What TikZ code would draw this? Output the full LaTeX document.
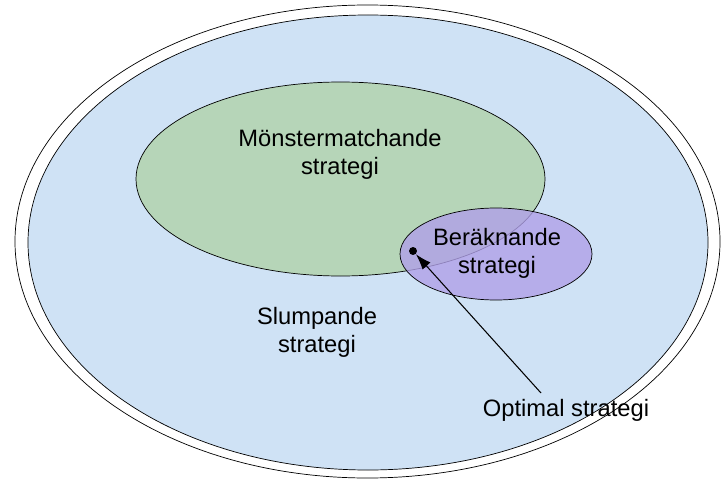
\documentclass[tikz,border=0pt]{standalone}
\usepackage{fontspec}
\setmainfont{Liberation Sans}
\usetikzlibrary{positioning,shapes.geometric,arrows.meta}

\definecolor{slumpblue}{RGB}{207,226,245}
\definecolor{monstergreen}{RGB}{182,213,184}
\definecolor{beraknviolet}{RGB}{176,160,232}

\begin{document}
\begin{tikzpicture}[x=0.02cm, y=-0.02cm,
	setlabel/.style={align=center, font=\fontsize{13.5}{16}\selectfont},
]

\useasboundingbox (0,0) rectangle (723,483);

% Random strategies
\node [draw, ellipse, fill=white,
	minimum width=705*0.02cm,
	minimum height=473*0.02cm
] (outer) at (367.5, 241.5) {};
\node [draw, ellipse, fill=slumpblue,
	minimum width=680*0.02cm,
	minimum height=455*0.02cm
] (slumpande) at (368, 242.5) {};

% Pattern matching
\node [draw, ellipse, fill=monstergreen,
	minimum width=409*0.02cm,
	minimum height=194*0.02cm
] (monster) at (340.5, 179) {};

% Computing
\node [draw, ellipse, fill=beraknviolet, fill opacity=0.8,
	minimum width=192*0.02cm,
	minimum height=92*0.02cm
] (berakn) at (496, 254) {};

% Labels
\node [setlabel] (monster_label) at (340, 154) {Mönstermatchande\\strategi};
\node [setlabel] (berakn_label) at (497, 253) {Beräknande\\strategi};
\node [setlabel] (slump_label) at (317, 332) {Slumpande\\strategi};
\node [setlabel] (optimal_label) at (566, 410) {Optimal strategi};

% Optimal point
\node [circle, fill=black, inner sep=1.6pt] (optimal) at (413, 251) {};
\coordinate (arrow_start) at (541, 393);

\draw[-{Latex[length=9pt,width=6pt]}, semithick] (arrow_start) -- (optimal);

\end{tikzpicture}
\end{document}
